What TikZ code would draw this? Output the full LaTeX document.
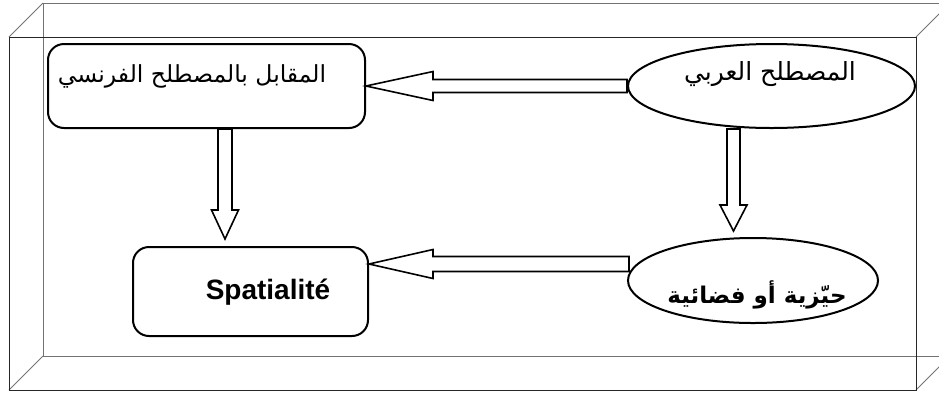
\documentclass[tikz,border=0pt]{standalone}
\usepackage{fontspec}
\setmainfont{Liberation Sans}
\newfontfamily\arabicfont[Script=Arabic]{DejaVu Sans}
\TeXXeTstate=1
\usetikzlibrary{calc,shapes.geometric}

\tikzset{
  frontedge/.style={draw=black!85, line width=1pt},
  backedge/.style={draw=black!55, line width=1pt},
  termbox/.style={draw=black, line width=2pt, rounded corners=16pt, fill=white, inner sep=0pt},
  termoval/.style={draw=black, line width=2pt, ellipse, fill=white, inner sep=0pt},
  termtext/.style={inner sep=0pt, text=black},
  blockarrow/.style={draw=black, line width=1.6pt, fill=white, line join=miter},
}

\begin{document}
\begin{tikzpicture}[x=1pt, y=-1pt]
\useasboundingbox (0,0) rectangle (939,392);
\clip (0,0) rectangle (939,392);

% bevelled frame: back face, front face and the joining edges
\coordinate (bk1) at (43,3);   \coordinate (bk2) at (950,3);
\coordinate (bk3) at (950,356); \coordinate (bk4) at (43,356);
\coordinate (fr1) at (9,37);   \coordinate (fr2) at (916,37);
\coordinate (fr3) at (916,390); \coordinate (fr4) at (9,390);
\draw[backedge] (bk1) -- (bk2) -- (bk3) -- (bk4) -- cycle;
\draw[backedge] (fr1) -- (bk1) (fr2) -- (bk2) (fr3) -- (bk3) (fr4) -- (bk4);
\draw[frontedge] (fr1) -- (fr2) -- (fr3) -- (fr4) -- cycle;

% terms
\node[termbox, minimum width=317pt, minimum height=84pt] (b1) at (206.5,86) {};
\node[termoval, minimum width=287pt, minimum height=84pt] (e1) at (771.5,86) {};
\node[termbox, minimum width=235pt, minimum height=89pt] (b2) at (250.5,291.5) {};
\node[termoval, minimum width=250pt, minimum height=85pt] (e2) at (753,280.5) {};

\node[termtext] (t1) at (192,76) {\arabicfont\fontsize{23.5}{28}\selectfont\beginR المقابل بالمصطلح الفرنسي\endR};
\node[termtext] (t2) at (770,74) {\arabicfont\fontsize{25}{30}\selectfont\beginR المصطلح العربي\endR};
\node[termtext] (t3) at (268,292) {\fontsize{28}{32}\selectfont\bfseries Spatialité};
\node[termtext] (t4) at (757,295) {\arabicfont\bfseries\fontsize{23}{28}\selectfont\beginR حيّزية أو فضائية\endR};

% Arabic term -> French equivalent
\coordinate (a1tip) at (b1.east);
\coordinate (a1tail) at (e1.west);
\draw[blockarrow] (a1tip) -- ($(a1tip)+(67,-14.5)$) -- ($(a1tip)+(67,-6.5)$)
  -- ($(a1tail)+(0,-6.5)$) -- ($(a1tail)+(0,6.5)$)
  -- ($(a1tip)+(67,6.5)$) -- ($(a1tip)+(67,14.5)$) -- cycle;

% French equivalent -> Spatialite
\coordinate (a2tail) at ($(b1.south)+(18.5,0)$);
\coordinate (a2tip) at ($(a2tail |- b2.north)+(0,-7)$);
\draw[blockarrow] (a2tip) -- ($(a2tip)+(-13.5,-29)$) -- ($(a2tip)+(-7,-29)$)
  -- ($(a2tail)+(-7,0)$) -- ($(a2tail)+(7,0)$)
  -- ($(a2tip)+(7,-29)$) -- ($(a2tip)+(13.5,-29)$) -- cycle;

% Arabic term -> its rendering
\coordinate (a3tail) at ($(e1.south)+(-38,0)$);
\coordinate (a3tip) at ($(a3tail |- e2.north)+(0,-6)$);
\draw[blockarrow] (a3tip) -- ($(a3tip)+(-13.5,-26)$) -- ($(a3tip)+(-6.5,-26)$)
  -- ($(a3tail)+(-6.5,0)$) -- ($(a3tail)+(6.5,0)$)
  -- ($(a3tip)+(6.5,-26)$) -- ($(a3tip)+(13.5,-26)$) -- cycle;

% rendering -> Spatialite
\coordinate (a4tail) at ($(e2.west)+(2,-16.5)$);
\coordinate (a4tip) at (b2.east |- a4tail);
\draw[blockarrow] (a4tip) -- ($(a4tip)+(64,-14.5)$) -- ($(a4tip)+(64,-7.5)$)
  -- ($(a4tail)+(0,-7.5)$) -- ($(a4tail)+(0,7.5)$)
  -- ($(a4tip)+(64,7.5)$) -- ($(a4tip)+(64,14.5)$) -- cycle;
\end{tikzpicture}
\end{document}
